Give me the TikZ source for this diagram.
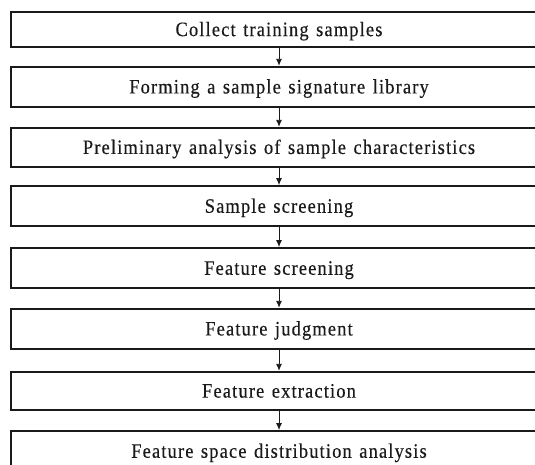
\documentclass[tikz,border=0pt]{standalone}
\usepackage{fontspec}
\setmainfont{Liberation Serif}[FakeStretch=0.9,LetterSpace=5.6,FakeBold=0.3]
\usetikzlibrary{arrows.meta}
\definecolor{ink}{HTML}{1A1A1A}
% step label font: tall serif, light tracking, roomy word gaps
\newcommand\stepfont{\fontsize{20.5}{23}\selectfont\spaceskip 7.5pt\relax}
\tikzset{
  x=1pt, y=-1pt,
  stepbox/.style={draw=ink, line width=1.8pt, fill=white, rectangle,
    minimum width=536pt, inner sep=0pt, text=ink,
    font=\stepfont, text height=13.5pt, text depth=0pt},
  flow/.style={draw=ink, line width=0.9pt, -{Latex[length=7pt,width=6pt]}}
}
\begin{document}
\begin{tikzpicture}
\useasboundingbox (0,0) rectangle (535,464);
\clip (0,0) rectangle (535,464);
\fill[white] (0,0) rectangle (535,464);
\node[stepbox, minimum height=35.3pt] (s1) at (279,29.35) {Collect training samples};
\node[stepbox, minimum height=40pt] (s2) at (279,86.7) {Forming a sample signature library};
\node[stepbox, minimum height=39pt] (s3) at (279,147.2) {Preliminary analysis of sample characteristics};
\node[stepbox, minimum height=40pt] (s4) at (279,206) {Sample screening};
\node[stepbox, minimum height=40pt] (s5) at (279,268) {Feature screening};
\node[stepbox, minimum height=40pt] (s6) at (279,328.7) {Feature judgment};
\node[stepbox, minimum height=38.3pt] (s7) at (279,390.85) {Feature extraction};
\node[stepbox, minimum height=40pt] (s8) at (279,451) {Feature space distribution analysis};
\foreach \a/\b in {s1/s2,s2/s3,s3/s4,s4/s5,s5/s6,s6/s7,s7/s8}
  \draw[flow] (\a.south) -- (\b.north);
\end{tikzpicture}
\end{document}
